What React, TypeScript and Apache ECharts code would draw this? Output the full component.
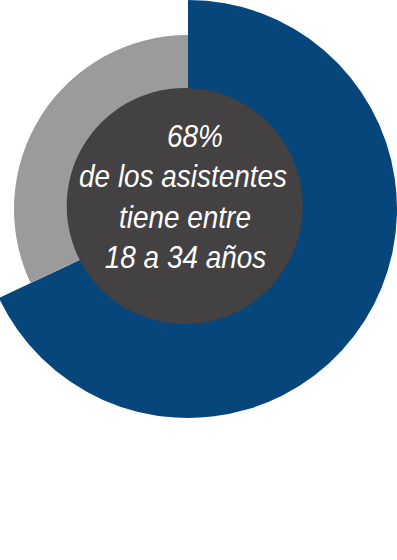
import React, { useEffect, useRef } from "react";
import * as echarts from "echarts";

const categories = ["18 a 34 años", "Otros"];
const values = [68, 32];
const colors = ["#06467A", "#9B9B9B"];
const centerLines = ["68%", "de los asistentes", "tiene entre", "18 a 34 años"];
const lineX = [195, 183, 185, 185.5];

export default function App() {
  const ref = useRef<HTMLDivElement>(null);
  useEffect(() => {
    document.body.style.margin = "0";
    const chart = echarts.init(ref.current!, null, { renderer: "svg" });
    const cx = 188;
    const cy = 209;
    const outerSeries = {
      type: "pie",
      center: [cx, cy],
      radius: [0, 209],
      startAngle: 90,
      clockwise: true,
      silent: true,
      label: { show: false },
      labelLine: { show: false },
      data: [
        { name: categories[0], value: values[0], itemStyle: { color: colors[0] } },
        { name: categories[1], value: values[1], itemStyle: { color: "rgba(0,0,0,0)" } },
      ],
    };
    const innerSeries = {
      type: "pie",
      center: [cx, cy],
      radius: [0, 174],
      startAngle: 90,
      clockwise: true,
      silent: true,
      label: { show: false },
      labelLine: { show: false },
      data: [
        { name: categories[0], value: values[0], itemStyle: { color: "rgba(0,0,0,0)" } },
        { name: categories[1], value: values[1], itemStyle: { color: colors[1] } },
      ],
    };
    const texts = centerLines.map((t, i) => ({
      type: "text",
      x: lineX[i],
      y: 136 + i * 40.3,
      scaleX: 0.9,
      z: 10,
      style: {
        text: t,
        fill: "#ffffff",
        font: "italic 31px 'Liberation Sans', Arial, sans-serif",
        textAlign: "center",
        textVerticalAlign: "middle",
      },
    }));
    chart.setOption({
      animation: false,
      series: [outerSeries, innerSeries],
      graphic: [
        {
          type: "circle",
          z: 5,
          shape: { cx: 184.7, cy: 206, r: 118 },
          style: { fill: "#434142" },
        },
        ...texts,
      ],
    });
    return () => chart.dispose();
  }, []);
  return <div ref={ref} style={{ position: "absolute", left: 0, top: 0, width: 397, height: 560 }} />;
}
